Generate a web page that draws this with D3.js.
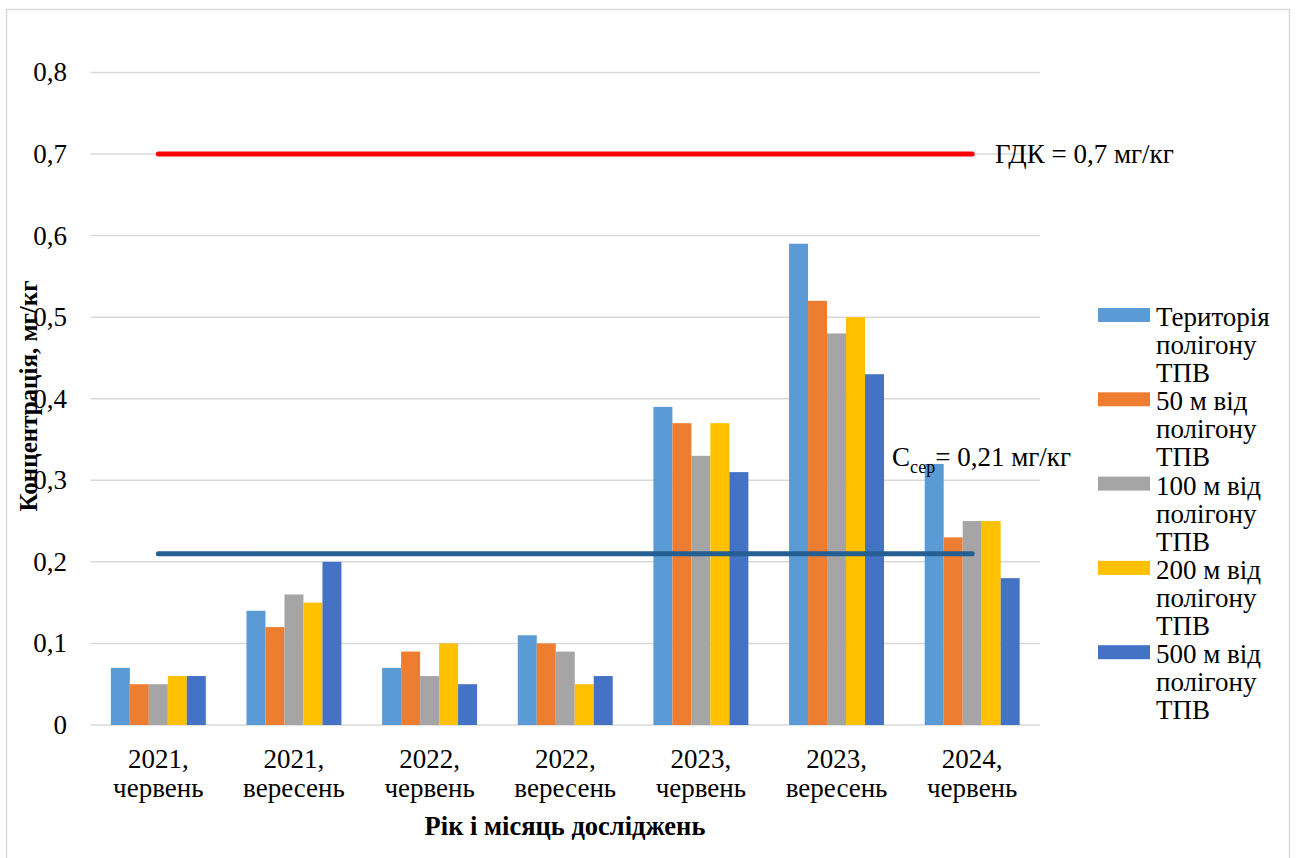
<!DOCTYPE html>
<html>
<head>
<meta charset="utf-8">
<script src="https://cdn.jsdelivr.net/npm/d3@7"></script>
<style>
  html, body { margin: 0; padding: 0; background: #fff; }
  svg text { font-family: "Liberation Serif", "Times New Roman", serif; fill: #000; }
</style>
</head>
<body>
<svg id="chart" width="1299" height="858"></svg>
<script>
// Sampling periods
const categories = [
  ["2021,", "червень"], ["2021,", "вересень"],
  ["2022,", "червень"], ["2022,", "вересень"],
  ["2023,", "червень"], ["2023,", "вересень"],
  ["2024,", "червень"]
];

// Series: distance from the landfill
const seriesNames = [
  ["Територія", "полігону", "ТПВ"],
  ["50 м від", "полігону", "ТПВ"],
  ["100 м від", "полігону", "ТПВ"],
  ["200 м від", "полігону", "ТПВ"],
  ["500 м від", "полігону", "ТПВ"]
];
const seriesColors = ["#5B9BD5", "#ED7D31", "#A5A5A5", "#FFC000", "#4472C4"];

// Concentration, mg/kg — one array per series, in category order
const territory = [0.07, 0.14, 0.07, 0.11, 0.39, 0.59, 0.32];
const m50       = [0.05, 0.12, 0.09, 0.10, 0.37, 0.52, 0.23];
const m100      = [0.05, 0.16, 0.06, 0.09, 0.33, 0.48, 0.25];
const m200      = [0.06, 0.15, 0.10, 0.05, 0.37, 0.50, 0.25];
const m500      = [0.06, 0.20, 0.05, 0.06, 0.31, 0.43, 0.18];
const seriesValues = [territory, m50, m100, m200, m500];

// Reference levels
const mpcValue = 0.7;   // ГДК
const meanValue = 0.21; // C сер

const yTicks = [0, 0.1, 0.2, 0.3, 0.4, 0.5, 0.6, 0.7, 0.8];

const svg = d3.select("#chart");

// Outer frame
svg.append("rect")
  .attr("x", 6.5).attr("y", 9.5)
  .attr("width", 1283).attr("height", 855)
  .attr("fill", "none").attr("stroke", "#D9D9D9").attr("stroke-width", 1.5);

const plot = { left: 90.5, right: 1040, top: 72.4, bottom: 725 };

const x0 = d3.scaleBand()
  .domain(d3.range(categories.length))
  .range([plot.left, plot.right])
  .paddingInner(0.3).paddingOuter(0.15);

const x1 = d3.scaleBand()
  .domain(d3.range(seriesValues.length))
  .range([0, x0.bandwidth()])
  .padding(0);

const y = d3.scaleLinear().domain([0, 0.8]).range([plot.bottom, plot.top]);

// Gridlines
svg.append("g")
  .selectAll("line")
  .data(yTicks)
  .join("line")
  .attr("x1", plot.left).attr("x2", plot.right)
  .attr("y1", d => y(d)).attr("y2", d => y(d))
  .attr("stroke", "#D9D9D9").attr("stroke-width", 1.5);

// Y tick labels
const fmt = d => d === 0 ? "0" : d3.format(".1f")(d).replace(".", ",");
svg.append("g")
  .selectAll("text")
  .data(yTicks)
  .join("text")
  .attr("x", 67).attr("y", d => y(d) + 9)
  .attr("text-anchor", "end")
  .attr("font-size", 27)
  .text(fmt);

// Bars
const groups = svg.append("g")
  .selectAll("g")
  .data(categories.map((c, i) => i))
  .join("g")
  .attr("transform", i => `translate(${x0(i)},0)`);

groups.selectAll("rect")
  .data(i => seriesValues.map((vals, s) => ({ s, v: vals[i] })))
  .join("rect")
  .attr("x", d => x1(d.s))
  .attr("width", x1.bandwidth())
  .attr("y", d => y(d.v))
  .attr("height", d => y(0) - y(d.v))
  .attr("fill", d => seriesColors[d.s]);

// X tick labels (two lines)
const xl = svg.append("g")
  .selectAll("text")
  .data(categories)
  .join("text")
  .attr("text-anchor", "middle")
  .attr("font-size", 27)
  .attr("transform", (d, i) => `translate(${x0(i) + x0.bandwidth() / 2},0)`);
xl.append("tspan").attr("x", 0).attr("y", 768).text(d => d[0]);
xl.append("tspan").attr("x", 0).attr("y", 797).text(d => d[1]);

// Reference lines spanning first to last category centres
const xStart = x0(0) + x0.bandwidth() / 2;
const xEnd = x0(categories.length - 1) + x0.bandwidth() / 2;

svg.append("line")
  .attr("x1", xStart).attr("x2", xEnd)
  .attr("y1", y(mpcValue)).attr("y2", y(mpcValue))
  .attr("stroke", "#FF0000").attr("stroke-width", 5).attr("stroke-linecap", "round");

svg.append("line")
  .attr("x1", xStart).attr("x2", xEnd)
  .attr("y1", y(meanValue)).attr("y2", y(meanValue))
  .attr("stroke", "#255E91").attr("stroke-width", 5).attr("stroke-linecap", "round");

// Reference labels
svg.append("text")
  .attr("x", 995).attr("y", y(mpcValue) + 9)
  .attr("font-size", 27)
  .text("ГДК = " + String(mpcValue).replace(".", ",") + " мг/кг");

const meanLabel = svg.append("text")
  .attr("x", 892).attr("y", 466)
  .attr("font-size", 27);
meanLabel.append("tspan").text("C");
meanLabel.append("tspan").attr("font-size", 18).attr("dy", 7).text("сер");
meanLabel.append("tspan").attr("dy", -7).text("= " + String(meanValue).replace(".", ",") + " мг/кг");

// Axis titles
svg.append("text")
  .attr("transform", "translate(37,396) rotate(-90)")
  .attr("text-anchor", "middle")
  .attr("font-size", 25).attr("font-weight", "bold")
  .text("Концентрація, мг/кг");

svg.append("text")
  .attr("x", 565).attr("y", 835)
  .attr("text-anchor", "middle")
  .attr("font-size", 26.5).attr("font-weight", "bold")
  .text("Рік і місяць досліджень");

// Legend
const legend = svg.append("g")
  .selectAll("g")
  .data(seriesNames)
  .join("g")
  .attr("transform", (d, i) => `translate(1098,${308 + i * 84.3})`);

legend.append("rect")
  .attr("width", 52).attr("height", 14)
  .attr("fill", (d, i) => seriesColors[i]);

const lt = legend.append("text").attr("font-size", 27);
lt.selectAll("tspan")
  .data(d => d)
  .join("tspan")
  .attr("x", 58)
  .attr("y", (d, k) => 18 + k * 28)
  .text(d => d);
</script>
</body>
</html>
